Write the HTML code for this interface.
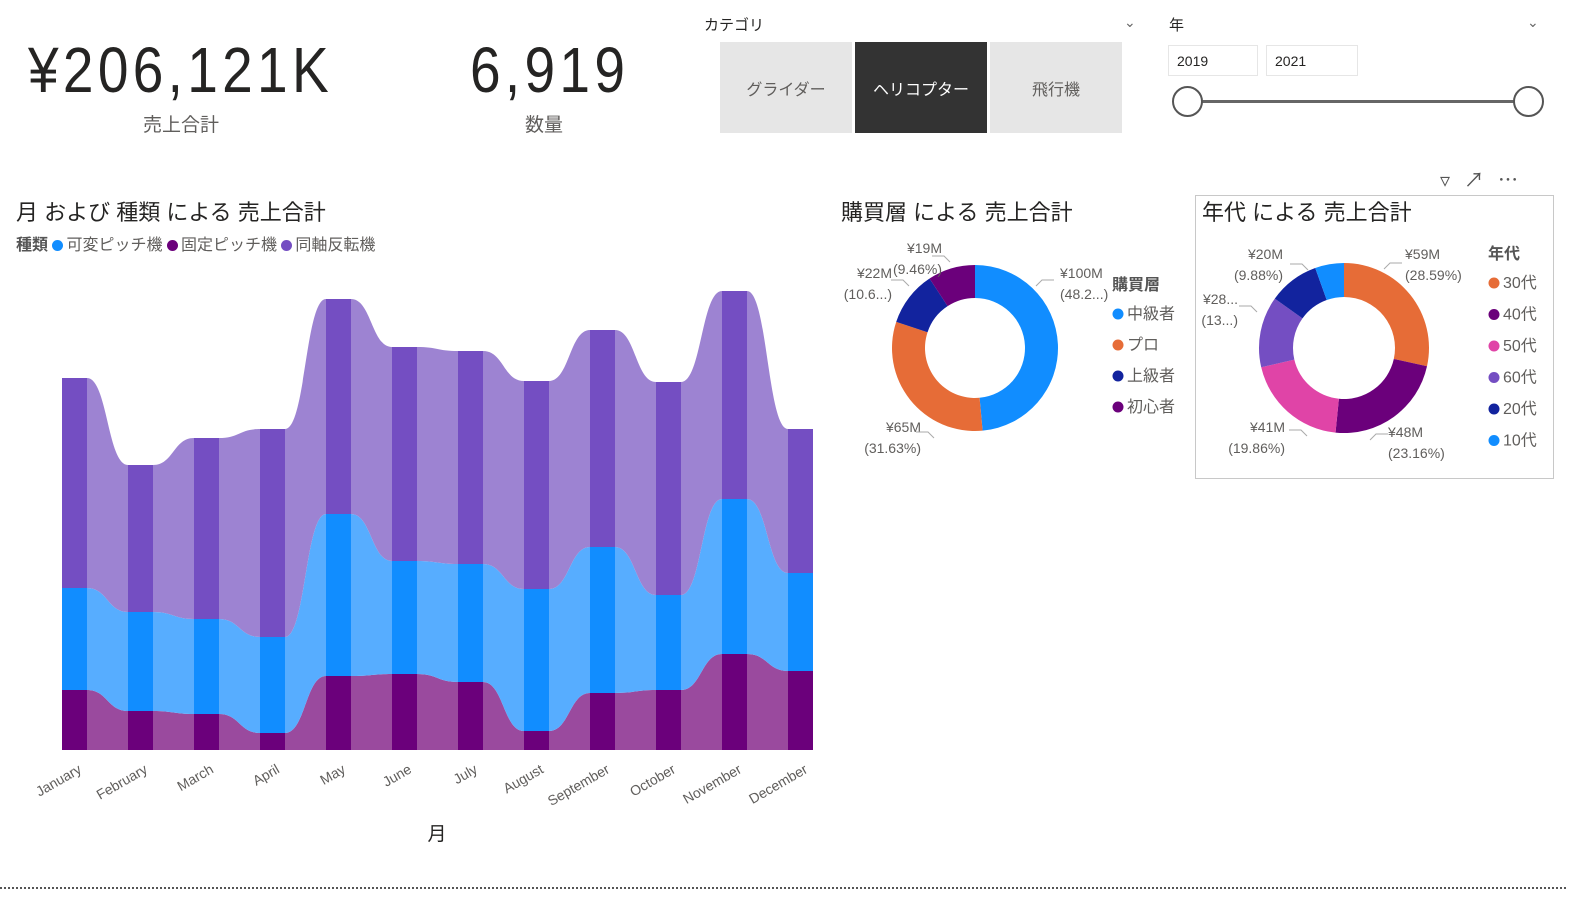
<!DOCTYPE html>
<html><head><meta charset="utf-8"><style>
body{margin:0;width:1581px;height:905px;background:#fff;font-family:"Liberation Sans","Noto Sans CJK JP",sans-serif;position:relative;overflow:hidden;color:#252423}
.abs{position:absolute}
.kpi{font-size:64px;line-height:64px;transform-origin:0 0;transform:scaleX(0.86);white-space:nowrap;color:#252423;letter-spacing:5px}
.sub{font-size:19px;color:#605e5c}
.btn{position:absolute;top:42px;width:132px;height:91px;background:#e6e6e6;color:#605e5c;font-size:16px;display:flex;align-items:center;justify-content:center}
.title{font-size:22px;color:#252423}
.lg{font-size:16px;color:#605e5c}
.dot{display:inline-block;width:11px;height:11px;border-radius:50%;margin-right:3px;vertical-align:-1px}
svg text{font-family:"Liberation Sans","Noto Sans CJK JP",sans-serif}
</style></head><body>
<div class="abs kpi" style="left:28px;top:38px">¥206,121K</div>
<div class="abs sub" style="left:143px;top:110px">売上合計</div>
<div class="abs kpi" style="left:470px;top:38px">6,919</div>
<div class="abs sub" style="left:525px;top:110px">数量</div>

<div class="abs" style="left:704px;top:14px;font-size:15px">カテゴリ</div>
<div class="abs" style="left:1124px;top:14px;font-size:14px;color:#666">&#8964;</div>
<div class="btn" style="left:720px">グライダー</div>
<div class="btn" style="left:855px;background:#333;color:#fff">ヘリコプター</div>
<div class="btn" style="left:990px">飛行機</div>

<div class="abs" style="left:1169px;top:14px;font-size:15px">年</div>
<div class="abs" style="left:1527px;top:14px;font-size:14px;color:#666">&#8964;</div>
<div class="abs" style="left:1168px;top:45px;width:90px;height:31px;border:1px solid #e6e6e6;box-sizing:border-box;font-size:14px;padding:7px 8px">2019</div>
<div class="abs" style="left:1266px;top:45px;width:92px;height:31px;border:1px solid #e6e6e6;box-sizing:border-box;font-size:14px;padding:7px 8px">2021</div>
<div class="abs" style="left:1187px;top:100px;width:342px;height:3px;background:#666"></div>
<div class="abs" style="left:1172px;top:86px;width:27px;height:27px;border:2px solid #555;border-radius:50%;background:#fff"></div>
<div class="abs" style="left:1513px;top:86px;width:27px;height:27px;border:2px solid #555;border-radius:50%;background:#fff"></div>

<div class="abs title" style="left:16px;top:195px">月 および 種類 による 売上合計</div>
<div class="abs lg" style="left:16px;top:231px"><b style="color:#555">種類</b> <span><span class="dot" style="background:#118DFF"></span>可変ピッチ機</span> <span><span class="dot" style="background:#6B007B"></span>固定ピッチ機</span> <span><span class="dot" style="background:#744EC2"></span>同軸反転機</span></div>
<svg id="ribbon" class="abs" style="left:0;top:0" width="830" height="860"></svg>

<div class="abs title" style="left:841px;top:195px">購買層 による 売上合計</div>
<svg id="d1" class="abs" style="left:0;top:0" width="1581" height="905"></svg>

<div class="abs" style="left:1195px;top:195px;width:359px;height:284px;border:1px solid #c8c8c8;box-sizing:border-box"></div>
<div class="abs" style="left:1440px;top:164px;font-size:20px;color:#555;letter-spacing:14px">&#9663;&#8599;&#8943;</div>
<div class="abs title" style="left:1202px;top:195px">年代 による 売上合計</div>

<div class="abs" style="left:0;top:887px;width:1566px;border-top:2px dotted #555"></div>

<script>
const months=["January","February","March","April","May","June","July","August","September","October","November","December"];
const fixedPitch=[60,39,36,17,74,76,68,19,57,60,96,79];
const variablePitch=[102,99,95,96,162,113,118,142,146,95,155,98];
const coaxial=[210,147,181,208,215,214,213,208,217,213,208,144];
const buyerCats=["中級者","プロ","上級者","初心者"];
const buyerVals=[100,65,22,19];
const buyerLabels=["¥100M|(48.2...)","¥65M|(31.63%)","¥22M|(10.6...)","¥19M|(9.46%)"];
const ageCats=["30代","40代","50代","60代","20代","10代"];
const ageVals=[59,48,41,28,20,11.4];
const ageLabels=["¥59M|(28.59%)","¥48M|(23.16%)","¥41M|(19.86%)","¥28...|(13...)","¥20M|(9.88%)",""];

const NS="http://www.w3.org/2000/svg";
function mk(p,t,a){const e=document.createElementNS(NS,t);for(const k in a)e.setAttribute(k,a[k]);p.appendChild(e);return e;}

const R=document.getElementById('ribbon');
const x0=62,step=66,bw=25,base=750,k=1.0;
const xs=i=>x0+i*step;
const ys=v=>base-v*k;
const series=[{d:fixedPitch,bar:"#6B007B",rib:"#9A4A9E",n:"fixed"},{d:variablePitch,bar:"#118DFF",rib:"#57ADFF",n:"variable"},{d:coaxial,bar:"#744EC2",rib:"#9D83D2",n:"coaxial"}];
let cum=months.map(()=>0);
series.forEach(s=>{
  const lo=cum.slice(), hi=cum.map((c,i)=>c+s.d[i]);
  for(let i=0;i<months.length-1;i++){
    const a=xs(i)+bw,b=xs(i+1),m=(a+b)/2;
    const d=`M${a},${ys(hi[i])} C${m},${ys(hi[i])} ${m},${ys(hi[i+1])} ${b},${ys(hi[i+1])} L${b},${ys(lo[i+1])} C${m},${ys(lo[i+1])} ${m},${ys(lo[i])} ${a},${ys(lo[i])} Z`;
    const p=mk(R,'path',{d:d,fill:s.rib});
    
    
  }
  months.forEach((m,i)=>{
    const r=mk(R,'rect',{x:xs(i),y:ys(hi[i]),width:bw,height:s.d[i]*k,fill:s.bar});
    
    
  });
  cum=hi;
});
months.forEach((m,i)=>{
  const cx=xs(i)+bw/2;
  const t=mk(R,'text',{x:cx+8,y:772,'text-anchor':'end','font-size':14,fill:'#605e5c',transform:`rotate(-30 ${cx+8} 772)`});
  t.textContent=m;
  
  
});
const xt=mk(R,'text',{x:437,y:840,'text-anchor':'middle','font-size':19,fill:'#252423'});
xt.textContent="月";



const D=document.getElementById('d1');
function donut(cx,cy,ro,ri,vals,cols,labels,name,labelPos){
  const tot=vals.reduce((a,b)=>a+b,0);let a0=0;
  vals.forEach((v,i)=>{
    const a1=a0+v/tot*2*Math.PI;
    const P=(r,a)=>[cx+r*Math.sin(a),cy-r*Math.cos(a)];
    const [x1,y1]=P(ro,a0),[x2,y2]=P(ro,a1),[x3,y3]=P(ri,a1),[x4,y4]=P(ri,a0);
    const lg=(a1-a0)>Math.PI?1:0;
    const p=mk(D,'path',{d:`M${x1},${y1} A${ro},${ro} 0 ${lg} 1 ${x2},${y2} L${x3},${y3} A${ri},${ri} 0 ${lg} 0 ${x4},${y4} Z`,fill:cols[i]});
    
    
    if(labels[i]&&labelPos[i]){
      const [lx,ly,anc,ax,ay]=labelPos[i];const parts=labels[i].split('|');
      parts.forEach((t,j)=>{const e=mk(D,'text',{x:lx,y:ly+j*21,'text-anchor':anc,'font-size':14,fill:'#605e5c'});e.textContent=t;
        
        });
      const ln=mk(D,'polyline',{points:`${ax},${ay} ${ax+(anc==='start'?6:-6)},${ay-6} ${ax+(anc==='start'?18:-18)},${ay-6}`,fill:'none',stroke:'#aaa','stroke-width':1});
      
      
    }
    a0=a1;
  });
}
const buyerCols=["#118DFF","#E66C37","#12239E","#6B007B"];
donut(975,348,83,50,buyerVals,buyerCols,buyerLabels,'buyer',[[1060,278,'start',1036,286],[921,432,'end',934,438],[892,278,'end',909,286],[942,253,'end',950,262]]);
const ageCols=["#E66C37","#6B007B","#E044A7","#744EC2","#12239E","#118DFF"];
donut(1344,348,85,51,ageVals,ageCols,ageLabels,'age',[[1405,259,'start',1384,269],[1388,437,'start',1370,440],[1285,432,'end',1307,436],[1238,304,'end',1257,312],[1283,259,'end',1308,270],null]);
function legend(x,y,title,cats,cols,gap,name){
  const t=mk(D,'text',{x:x,y:y,'font-size':16,'font-weight':'bold',fill:'#555'});t.textContent=title;
  
  
  cats.forEach((c,i)=>{const yy=y+29+i*gap;
    const ci=mk(D,'circle',{cx:x+6,cy:yy-5,r:5.5,fill:cols[i]});
    
    
    const e=mk(D,'text',{x:x+15,y:yy,'font-size':16,fill:'#605e5c'});e.textContent=c;
    
    });
}
legend(1112,290,"購買層",buyerCats,buyerCols,31,'buyer');
legend(1488,259,"年代",ageCats,ageCols,31.5,'age');
</script>
</body></html>
